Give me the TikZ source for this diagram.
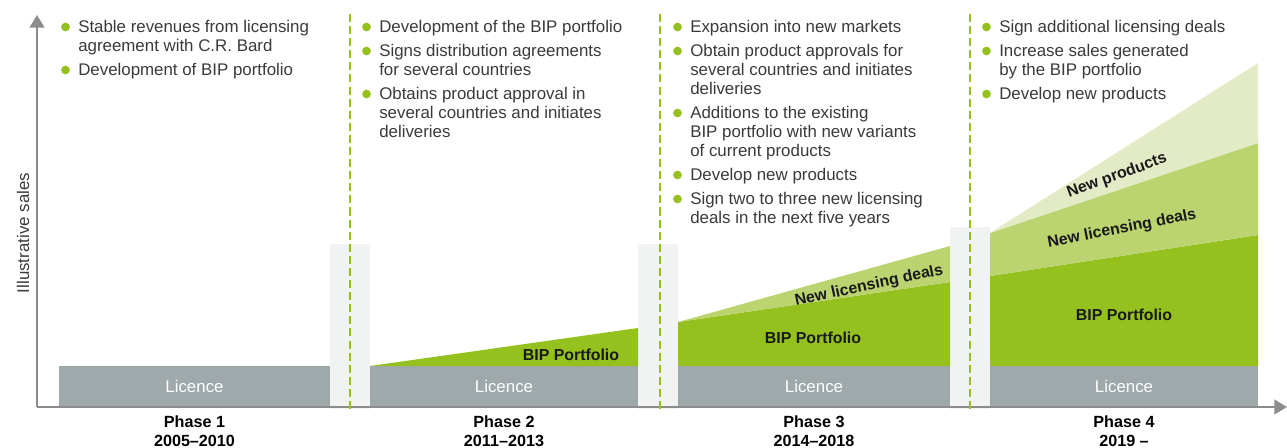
\documentclass[tikz,border=0pt]{standalone}
\usepackage{fontspec}
\setmainfont{Liberation Sans}
\usetikzlibrary{positioning,calc,arrows.meta}

\definecolor{bipgreen}{HTML}{95C11F}
\definecolor{dealgreen}{HTML}{BCD46F}
\definecolor{prodgreen}{HTML}{E2EBC6}
\definecolor{licgray}{HTML}{9FA8AB}
\definecolor{gapgray}{HTML}{F1F2F2}
\definecolor{axisgray}{HTML}{8C8C8C}
\definecolor{txtgray}{HTML}{3A3A3A}

\begin{document}
\begin{tikzpicture}[
    x=0.025cm, y=-0.025cm,
    every node/.style={inner sep=0pt, font=\fontsize{12}{13.5}\selectfont},
    point/.style={anchor=north west, align=left, text=txtgray},
    dot/.style={fill=bipgreen},
    axis/.style={draw=axisgray, line width=1.3pt},
    phasesep/.style={draw=bipgreen, line width=1.6pt, dash pattern=on 5.7pt off 2.9pt},
    licbar/.style={fill=licgray, text=white, minimum height=1cm},
    gapbox/.style={fill=gapgray},
    layerlabel/.style={font=\fontsize{11.3}{13}\selectfont\bfseries, text=black!90},
    phaselabel/.style={anchor=north, align=center, font=\fontsize{11.5}{14}\selectfont\bfseries, text=black}
]
\useasboundingbox (0,0) rectangle (1287,447);

% Separators between the phases
\fill[gapbox] (330,244) rectangle (370,409);
\fill[gapbox] (638,244) rectangle (678,409);
\fill[gapbox] (950,227) rectangle (990,409);

% Licence bars
\node[licbar, minimum width=6.775cm] (lic1) at (194.5,386) {Licence};
\node[licbar, minimum width=6.7cm] (lic2) at (504,386) {Licence};
\node[licbar, minimum width=6.8cm] (lic3) at (814,386) {Licence};
\node[licbar, minimum width=6.7cm] (lic4) at (1124,386) {Licence};

% Phase 2 - portfolio starts
\fill[bipgreen] (370,366) -- (638,328) -- (638,366) -- cycle;

% Phase 3
\fill[bipgreen] (678,366) -- (678,322) -- (950,282) -- (950,366) -- cycle;
\fill[dealgreen] (678,322) -- (950,246) -- (950,282) -- cycle;

% Phase 4
\fill[bipgreen] (990,366) -- (990,276) -- (1258,235) -- (1258,366) -- cycle;
\fill[dealgreen] (990,276) -- (990,233) -- (1258,143) -- (1258,235) -- cycle;
\fill[prodgreen] (990,233) -- (1258,63) -- (1258,143) -- cycle;

% Layer labels
\node[layerlabel] (bip2) at (571,355) {BIP Portfolio};
\node[layerlabel] (bip3) at (813,338) {BIP Portfolio};
\node[layerlabel] (bip4) at (1124,315) {BIP Portfolio};
\node[layerlabel, rotate=12] (deal3) at (869,286) {New licensing deals};
\node[layerlabel, rotate=11] (deal4) at (1122,229) {New licensing deals};
\node[layerlabel, rotate=20] (prod4) at (1117,176) {New products};

% Axes
\coordinate (origin) at (37,407);
\draw[axis, -{Triangle[length=9pt,width=10.5pt]}] (origin) -- (37,15);
\draw[axis, -{Triangle[length=9pt,width=10.5pt]}] (origin) -- (1287,407);
\node[rotate=90, text=txtgray] (ylab) at (23,233) {Illustrative sales};

% Phase borders
\draw[phasesep] (350,14) -- (350,409);
\draw[phasesep] (660,14) -- (660,409);
\draw[phasesep] (970,14) -- (970,409);

% Phase names
\node[phaselabel] (ph1) at (194.5,415) {Phase 1\\2005–2010};
\node[phaselabel] (ph2) at (504,415) {Phase 2\\2011–2013};
\node[phaselabel] (ph3) at (814,415) {Phase 3\\2014–2018};
\node[phaselabel] (ph4) at (1124,415) {Phase 4\\2019 –};

% Phase 1 points
\node[point] (s1a) at (78,20) {Stable revenues from licensing\\agreement with C.R. Bard};
\node[point] (s1b) at (78,63) {Development of BIP portfolio};

% Phase 2 points
\node[point] (s2a) at (379,20) {Development of the BIP portfolio};
\node[point] (s2b) at (379,44) {Signs distribution agreements\\for several countries};
\node[point] (s2c) at (379,87) {Obtains product approval in\\several countries and initiates\\deliveries};

% Phase 3 points
\node[point] (s3a) at (690,20) {Expansion into new markets};
\node[point] (s3b) at (690,44) {Obtain product approvals for\\several countries and initiates\\deliveries};
\node[point] (s3c) at (690,106) {Additions to the existing\\BIP portfolio with new variants\\of current products};
\node[point] (s3d) at (690,168) {Develop new products};
\node[point] (s3e) at (690,192) {Sign two to three new licensing\\deals in the next five years};

% Phase 4 points
\node[point] (s4a) at (999,20) {Sign additional licensing deals};
\node[point] (s4b) at (999,44) {Increase sales generated\\by the BIP portfolio};
\node[point] (s4c) at (999,87) {Develop new products};

% Bullets
\foreach \p in {s1a,s1b,s2a,s2b,s2c,s3a,s3b,s3c,s3d,s3e,s4a,s4b,s4c}
  \fill[dot] ($(\p.north west)+(-12.5,7)$) circle (3.1pt);

\end{tikzpicture}
\end{document}
